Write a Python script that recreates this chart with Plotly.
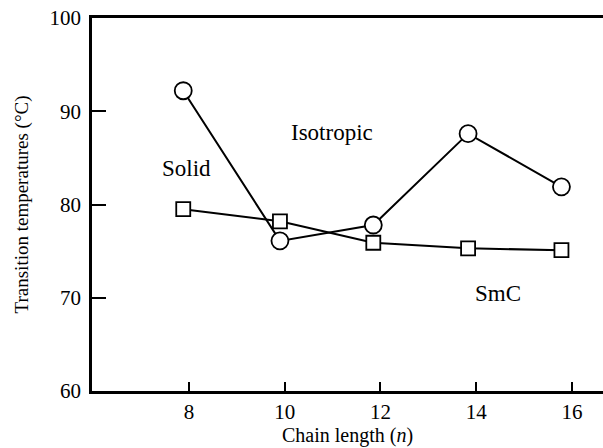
import plotly.graph_objects as go

# Chain length positions and transition temperatures (°C)
chain_length = [7.88, 9.90, 11.85, 13.83, 15.78]
isotropic_t = [92.2, 76.1, 77.8, 87.6, 81.9]
smc_t = [79.5, 78.2, 75.9, 75.3, 75.1]

x_ticks = [8, 10, 12, 14, 16]
y_ticks = [60, 70, 80, 90, 100]

FONT = "Liberation Serif, Times New Roman, serif"

fig = go.Figure()

fig.add_trace(go.Scatter(
    x=chain_length, y=isotropic_t, mode="lines+markers",
    line=dict(color="black", width=2),
    marker=dict(symbol="circle", size=17, color="white",
                line=dict(color="black", width=1.8)),
    showlegend=False, name="Isotropic transition",
))
fig.add_trace(go.Scatter(
    x=chain_length, y=smc_t, mode="lines+markers",
    line=dict(color="black", width=2),
    marker=dict(symbol="square", size=14, color="white",
                line=dict(color="black", width=1.8)),
    showlegend=False, name="SmC transition",
))

# Phase region labels
for txt, xa, ya in [("Solid", 7.94, 83.9), ("Isotropic", 10.99, 87.7), ("SmC", 14.45, 70.5)]:
    fig.add_annotation(x=xa, y=ya, text=txt, showarrow=False,
                       font=dict(family=FONT, size=23, color="black"))

fig.update_layout(
    width=603, height=448,
    margin=dict(l=92, r=0, t=18, b=57),
    paper_bgcolor="white", plot_bgcolor="white",
    font=dict(family=FONT, size=21, color="black"),
)

fig.update_xaxes(
    range=[5.974, 16.648], tickvals=x_ticks, ticktext=[str(v) for v in x_ticks],
    ticks="inside", ticklen=9, tickwidth=1.5, tickcolor="black",
    tickfont=dict(family=FONT, size=21, color="black"),
    showline=True, linecolor="black", linewidth=2.5, mirror=True,
    showgrid=False, zeroline=False,
    title=dict(text="Chain length (<i>n</i>)",
               font=dict(family=FONT, size=20, color="black"), standoff=6),
    automargin=False,
)
fig.update_yaxes(
    range=[60, 100], tickvals=y_ticks, ticktext=[str(v) for v in y_ticks],
    ticks="inside", ticklen=14, tickwidth=1.5, tickcolor="black",
    tickfont=dict(family=FONT, size=21, color="black"), ticklabelstandoff=4,
    showline=True, linecolor="black", linewidth=2.5, mirror=False,
    showgrid=False, zeroline=False,
    title=dict(text="Transition temperatures (°C)",
               font=dict(family=FONT, size=19, color="black"), standoff=16),
    automargin=False,
)

fig.write_html("out.html")
